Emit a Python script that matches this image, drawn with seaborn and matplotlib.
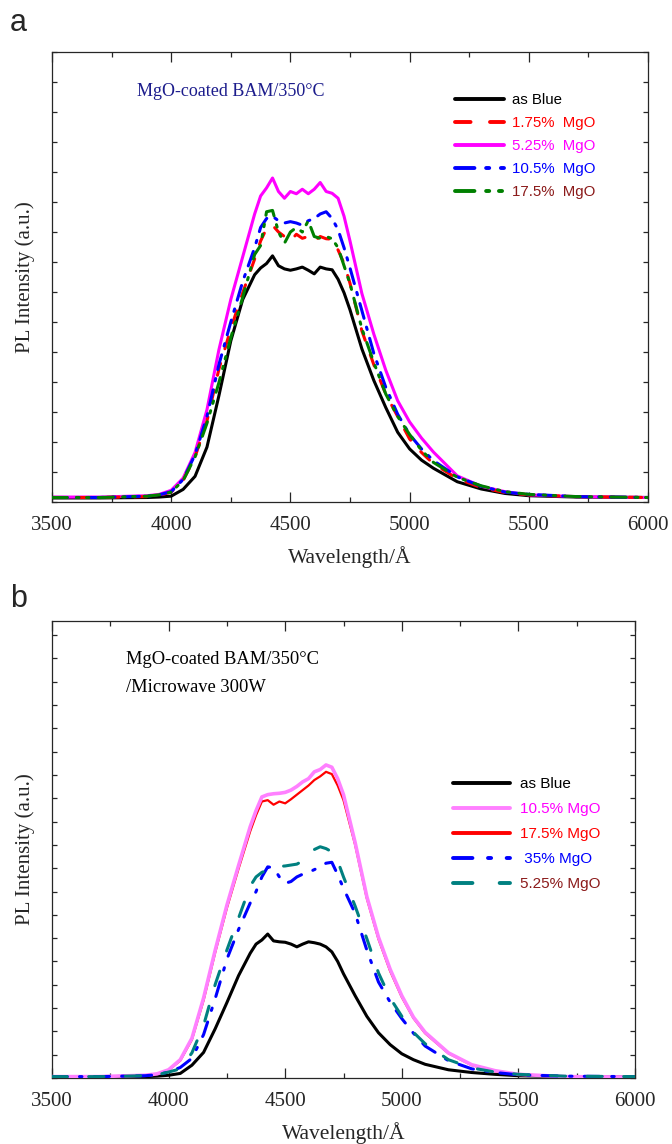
import matplotlib
matplotlib.use("Agg")
import matplotlib.pyplot as plt
import seaborn as sns
from matplotlib.ticker import MultipleLocator

# ----------------------------
# Data (arbitrary units)
# ----------------------------
wavelength = [3500, 3700, 3900, 3950, 4000, 4050, 4100, 4150, 4200, 4250, 4300, 4350,
              4375, 4400, 4425, 4450, 4475, 4500, 4525, 4550, 4575, 4600, 4625, 4650,
              4675, 4700, 4725, 4750, 4800, 4850, 4900, 4950, 5000, 5050, 5100,
              5200, 5300, 5400, 5500, 5700, 6000]

# panel a: MgO-coated BAM/350C
a_as_blue = [0.9, 0.9, 1.0, 1.1, 1.3, 2.8, 5.7, 12.2, 23.6, 35.8, 45.0, 50.5,
             52.0, 53.0, 54.7, 52.5, 51.8, 51.5, 51.8, 52.2, 51.5, 50.7, 52.2, 51.8,
             51.6, 49.5, 46.5, 42.7, 34.0, 27.0, 21.0, 15.5, 11.8, 9.3, 7.5,
             4.5, 2.9, 1.9, 1.4, 1.1, 1.0]
a_mgo_1p75 = [1.0, 1.0, 1.2, 1.5, 2.2, 4.8, 10.0, 18.0, 29.5, 38.5, 46.5, 54.0,
              58.0, 60.8, 61.5, 60.0, 59.0, 58.0, 59.5, 58.6, 59.0, 58.0, 59.0, 58.5,
              58.4, 56.0, 53.0, 48.6, 38.0, 30.5, 24.0, 19.0, 14.0, 11.0, 8.5,
              5.2, 3.2, 2.1, 1.6, 1.2, 1.0]
a_mgo_5p25 = [1.1, 1.1, 1.4, 1.7, 2.6, 5.3, 11.0, 20.5, 33.8, 45.0, 54.5, 64.0,
              68.0, 69.8, 72.0, 69.0, 67.5, 69.0, 68.5, 69.5, 68.5, 69.5, 71.0, 69.0,
              68.6, 67.5, 63.5, 58.0, 46.3, 37.3, 29.3, 22.5, 17.8, 14.2, 11.1,
              5.8, 3.5, 2.3, 1.6, 1.2, 1.0]
a_mgo_10p5 = [1.0, 1.0, 1.3, 1.6, 2.3, 5.0, 10.5, 19.0, 30.5, 40.0, 49.0, 56.5,
              61.0, 63.0, 63.5, 62.5, 62.0, 62.3, 62.0, 61.5, 62.5, 63.0, 64.0, 64.5,
              63.0, 60.5, 56.5, 52.0, 42.5, 33.0, 25.5, 19.5, 15.0, 11.8, 9.2,
              5.6, 3.5, 2.2, 1.7, 1.2, 1.0]
a_mgo_17p5 = [1.0, 1.0, 1.3, 1.6, 2.2, 4.8, 10.0, 17.5, 26.5, 36.5, 45.5, 55.0,
              57.0, 64.5, 64.8, 60.0, 57.5, 60.0, 61.0, 60.0, 62.5, 59.0, 58.6, 59.0,
              58.5, 56.5, 52.5, 48.5, 38.5, 31.0, 24.0, 19.0, 15.0, 11.5, 8.8,
              5.5, 3.6, 2.3, 1.7, 1.2, 1.0]

# panel b: MgO-coated BAM/350C /Microwave 300W
b_as_blue = [0.2, 0.2, 0.3, 0.4, 0.6, 1.0, 2.8, 5.6, 10.8, 16.5, 22.4, 27.3,
             29.3, 30.2, 31.5, 30.0, 29.8, 29.7, 29.3, 28.7, 29.3, 29.8, 29.6, 29.3,
             28.7, 27.6, 25.5, 22.8, 18.0, 13.5, 9.9, 7.3, 5.3, 4.0, 3.0,
             1.8, 1.2, 0.8, 0.5, 0.3, 0.2]
b_mgo_10p5 = [0.3, 0.3, 0.6, 0.9, 1.8, 4.0, 8.7, 17.5, 28.0, 37.8, 46.5, 55.0,
              58.5, 61.5, 62.0, 62.2, 62.3, 62.5, 63.0, 63.8, 64.8, 65.5, 67.0, 67.5,
              68.5, 68.0, 65.5, 62.0, 51.5, 39.7, 30.8, 23.8, 18.0, 13.3, 10.0,
              5.5, 2.9, 1.6, 0.8, 0.3, 0.2]
b_mgo_17p5 = [0.3, 0.3, 0.6, 0.9, 1.7, 3.8, 8.4, 17.0, 27.5, 37.2, 45.8, 54.0,
              57.5, 60.5, 60.8, 59.8, 60.5, 60.1, 61.0, 62.0, 63.0, 64.0, 65.2, 66.0,
              67.0, 66.5, 64.0, 60.8, 51.0, 39.3, 30.4, 23.4, 17.7, 13.1, 9.8,
              5.4, 2.8, 1.5, 0.8, 0.3, 0.2]
b_mgo_35 = [0.3, 0.3, 0.5, 0.7, 1.3, 2.3, 4.3, 9.5, 17.4, 26.0, 32.5, 38.3,
            40.8, 44.0, 46.2, 46.0, 44.0, 42.6, 43.0, 44.0, 44.6, 45.0, 45.6, 46.2,
            47.0, 47.2, 44.5, 41.5, 36.0, 28.0, 21.0, 16.6, 13.0, 9.8, 7.0,
            3.8, 2.0, 1.2, 0.7, 0.4, 0.3]
b_mgo_5p25 = [0.3, 0.3, 0.5, 0.7, 1.3, 2.0, 5.5, 11.5, 20.5, 28.0, 35.0, 42.0,
              44.0, 45.0, 45.5, 46.0, 46.3, 46.4, 46.6, 46.8, 47.5, 48.5, 50.0, 50.6,
              50.2, 49.5, 47.5, 44.0, 37.6, 30.5, 23.0, 17.5, 13.5, 10.0, 7.5,
              4.0, 2.2, 1.3, 0.8, 0.4, 0.3]

a_labels = ["as Blue", "1.75%  MgO", "5.25%  MgO", "10.5%  MgO", "17.5%  MgO"]
b_labels = ["as Blue", "10.5% MgO", "17.5% MgO", " 35% MgO", "5.25% MgO"]

# ----------------------------
# Style
# ----------------------------
sns.set_style("ticks")
plt.rcParams["font.family"] = ["Liberation Serif", "DejaVu Serif"]
plt.rcParams["axes.linewidth"] = 0.9
plt.rcParams["xtick.direction"] = "in"
plt.rcParams["ytick.direction"] = "in"

fig = plt.figure(figsize=(6.72, 11.44), dpi=100)
ax_a = fig.add_axes([52 / 672, 1 - 502 / 1144, 596 / 672, 450 / 1144])
ax_b = fig.add_axes([52 / 672, 1 - 1078 / 1144, 583 / 672, 457 / 1144])

lw = 2.2
# (values, colour, linestyle, width, zorder)
a_series = [
    (a_as_blue, "black", "-", lw, 2),
    (a_mgo_1p75, "#ff0000", (0, (4, 5)), lw, 3),
    (a_mgo_5p25, "#ff00ff", "-", lw, 2),
    (a_mgo_10p5, "#0000ff", (0, (5, 3, 0.8, 3)), lw, 3),
    (a_mgo_17p5, "#008000", (0, (5, 3, 0.8, 2.5, 0.8, 3)), lw, 3),
]
b_series = [
    (b_as_blue, "black", "-", lw, 2),
    (b_mgo_10p5, "#ff80ff", "-", 2.6, 3),
    (b_mgo_17p5, "#ff0000", "-", 1.6, 2.5),
    (b_mgo_35, "#0000ff", (0, (5, 4, 0.8, 4)), lw, 3),
    (b_mgo_5p25, "#008080", (0, (5, 7)), lw, 3),
]

for ax, series, labels in [(ax_a, a_series, a_labels), (ax_b, b_series, b_labels)]:
    for (vals, col, ls, w, z), lab in zip(series, labels):
        sns.lineplot(x=wavelength, y=vals, ax=ax, color=col, linestyle=ls, lw=w,
                     label=lab, zorder=z, dash_capstyle="round", solid_capstyle="round")

# ----------------------------
# Axes cosmetics
# ----------------------------
for ax, ystep in [(ax_a, 100 / 15), (ax_b, 5.1)]:
    ax.set_xlim(3500, 6000)
    ax.set_ylim(0, 100)
    ax.xaxis.set_major_locator(MultipleLocator(500))
    ax.xaxis.set_minor_locator(MultipleLocator(250))
    ax.yaxis.set_major_locator(MultipleLocator(ystep))
    ax.tick_params(axis="both", which="both", top=True, right=True, width=0.9)
    ax.tick_params(axis="x", which="major", length=7, labelsize=15, pad=10)
    ax.tick_params(axis="x", which="minor", length=3.5)
    ax.tick_params(axis="y", which="major", length=3.5, labelleft=False)
    ax.set_xlabel("Wavelength/Å", fontsize=15.5, labelpad=8)
    ax.set_ylabel("PL Intensity (a.u.)", fontsize=15, labelpad=12)
    for s in ax.spines.values():
        s.set_visible(True)

# legends
sans = ["Liberation Sans", "DejaVu Sans"]
leg_a = ax_a.legend(loc="upper left", bbox_to_anchor=((455 - 52) / 596, (502 - 93) / 450),
                    frameon=False, borderpad=0, borderaxespad=0, handlelength=3.3,
                    handletextpad=0.53, labelspacing=0.6, prop={"family": sans, "size": 10.8},
                    labelcolor=["black", "#ff0000", "#ff00ff", "#0000ff", "#8b1a1a"])
leg_b = ax_b.legend(loc="upper left", bbox_to_anchor=((453 - 52) / 583, (1078 - 777) / 457),
                    frameon=False, borderpad=0, borderaxespad=0, handlelength=3.7,
                    handletextpad=0.7, labelspacing=0.72, prop={"family": sans, "size": 11},
                    labelcolor=["black", "#ff00ff", "#ff0000", "#0000ff", "#8b1a1a"])
for leg in (leg_a, leg_b):
    for h in leg.get_lines():
        h.set_linewidth(2.8)

# annotations
ax_a.text((137 - 52) / 596, (502 - 92) / 450, "MgO-coated BAM/350°C", transform=ax_a.transAxes,
          fontsize=13, color="#1c1c8c", va="center", ha="left")
ax_b.text((126 - 52) / 583, (1078 - 660) / 457, "MgO-coated BAM/350°C", transform=ax_b.transAxes,
          fontsize=13.3, color="black", va="center", ha="left")
ax_b.text((126 - 52) / 583, (1078 - 687) / 457, "/Microwave 300W", transform=ax_b.transAxes,
          fontsize=13.3, color="black", va="center", ha="left")

# panel letters
fig.text(10 / 672, 1 - 31 / 1144, "a", fontsize=22, family=sans, va="baseline")
fig.text(10 / 672, 1 - 607 / 1144, "b", fontsize=22, family=sans, va="baseline")

fig.savefig("out.png", dpi=100)
